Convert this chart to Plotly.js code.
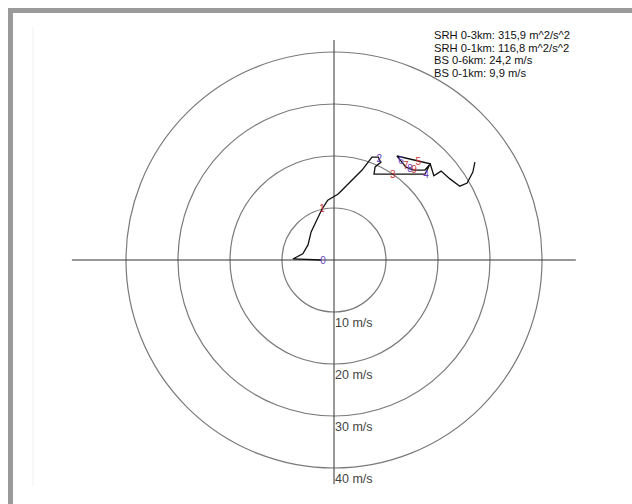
<!DOCTYPE html>
<html>
<head>
<meta charset="utf-8">
<script src="https://cdn.plot.ly/plotly-3.0.1.min.js"></script>
<style>
  html, body { margin: 0; padding: 0; background: #ffffff; }
  #chart { width: 632px; height: 504px; }
</style>
</head>
<body>
<div id="chart"></div>
<script>
// Hodograph trace (m/s): u = east component, v = north component
const hodoU = [-2.5, -7.9, -6.0, -5.0, -4.4, -3.5, -2.3, -1.2, 0.8, 3.1, 5.4, 7.3, 8.5, 9.0, 7.9, 7.7, 11.2, 15.0, 17.5, 18.5, 16.2, 12.1, 12.9, 13.8, 14.6, 15.4, 17.5, 18.5, 19.2, 20.6, 22.3, 24.2, 25.6, 26.7, 27.1];
const hodoV = [0.0, 0.2, 1.2, 2.9, 5.4, 7.3, 9.8, 11.5, 12.7, 15.0, 17.3, 19.8, 19.8, 18.8, 17.9, 16.5, 16.5, 16.5, 16.5, 18.5, 19.0, 20.0, 19.0, 17.9, 17.5, 17.3, 17.3, 18.5, 16.2, 17.1, 15.6, 14.2, 14.8, 16.9, 18.8];

// Height labels (km) along the trace
const labelKm = ["0", "1", "2", "3", "4", "5", "6", "7", "8", "9"];
const labelU = [-2.1, -2.3, 8.7, 11.3, 17.7, 16.2, 12.9, 13.8, 14.6, 15.4];
const labelV = [-0.2, 9.8, 19.4, 16.2, 16.2, 18.8, 19.0, 17.9, 17.5, 17.3];

// Speed rings (m/s)
const rings = [10, 20, 30, 40];
const ringLabels = ["10 m/s", "20 m/s", "30 m/s", "40 m/s"];

// Parameters box
const statLines = ["SRH 0-3km: 315,9 m^2/s^2", "SRH 0-1km: 116,8 m^2/s^2", "BS 0-6km: 24,2 m/s", "BS 0-1km: 9,9 m/s"];

const W = 632, H = 504, cx = 334, cy = 260, s = 5.2;
const xr = [-cx / s, (W - cx) / s];
const yr = [-(H - cy) / s, cy / s];
const FONT = 'Liberation Sans, Arial, sans-serif';

const labelColors = labelKm.map((k, i) => (i % 2 === 0 ? '#6a3fc4' : '#cc3333'));

const shapes = [];
// frame
shapes.push({type: 'rect', xref: 'paper', yref: 'paper', x0: 8 / W, x1: 1, y0: 1 - 13 / H, y1: 1 - 8 / H, fillcolor: '#9a9a9a', line: {width: 0}, layer: 'below'});
shapes.push({type: 'rect', xref: 'paper', yref: 'paper', x0: 8 / W, x1: 13 / W, y0: 0, y1: 1 - 8 / H, fillcolor: '#9a9a9a', line: {width: 0}, layer: 'below'});
shapes.push({type: 'line', xref: 'paper', yref: 'paper', x0: 33 / W, x1: 33 / W, y0: 1 - 486 / H, y1: 1 - 27 / H, line: {color: '#f1f1f1', width: 1}, layer: 'below'});
// rings
rings.forEach(r => shapes.push({type: 'circle', xref: 'x', yref: 'y', x0: -r, x1: r, y0: -r, y1: r, line: {color: '#7a7a7a', width: 1.2}, layer: 'below'}));
// axes cross
shapes.push({type: 'line', xref: 'x', yref: 'y', x0: -50.4, x1: 46.5, y0: 0, y1: 0, line: {color: '#333333', width: 1}, layer: 'below'});
shapes.push({type: 'line', xref: 'x', yref: 'y', x0: 0, x1: 0, y0: -43.1, y1: 42.3, line: {color: '#333333', width: 1}, layer: 'below'});

const annotations = [];
rings.forEach((r, i) => annotations.push({x: 0, y: -r, xref: 'x', yref: 'y', text: ringLabels[i], showarrow: false, xanchor: 'left', yanchor: 'top', xshift: -1, yshift: -2, font: {family: FONT, size: 12.5, color: '#444444'}}));
statLines.forEach((t, i) => annotations.push({x: 433 / W, y: 1 - (35 + 12.6 * i) / H, xref: 'paper', yref: 'paper', text: t, align: 'left', showarrow: false, xanchor: 'left', yanchor: 'middle', borderpad: 0, font: {family: FONT, size: 11.2, color: '#111111'}}));

const traces = [
  {x: hodoU, y: hodoV, mode: 'lines', line: {color: '#111111', width: 1.3}, hoverinfo: 'skip', cliponaxis: false},
  {x: labelU, y: labelV, mode: 'text', text: labelKm, textposition: 'middle center', textfont: {family: FONT, size: 10, color: labelColors}, hoverinfo: 'skip', cliponaxis: false}
];

const layout = {
  width: W, height: H,
  margin: {l: 0, r: 0, t: 0, b: 0},
  paper_bgcolor: '#ffffff', plot_bgcolor: '#ffffff',
  showlegend: false,
  xaxis: {range: xr, visible: false, fixedrange: true},
  yaxis: {range: yr, visible: false, fixedrange: true},
  shapes: shapes,
  annotations: annotations
};

Plotly.newPlot('chart', traces, layout, {staticPlot: true});
</script>
</body>
</html>
